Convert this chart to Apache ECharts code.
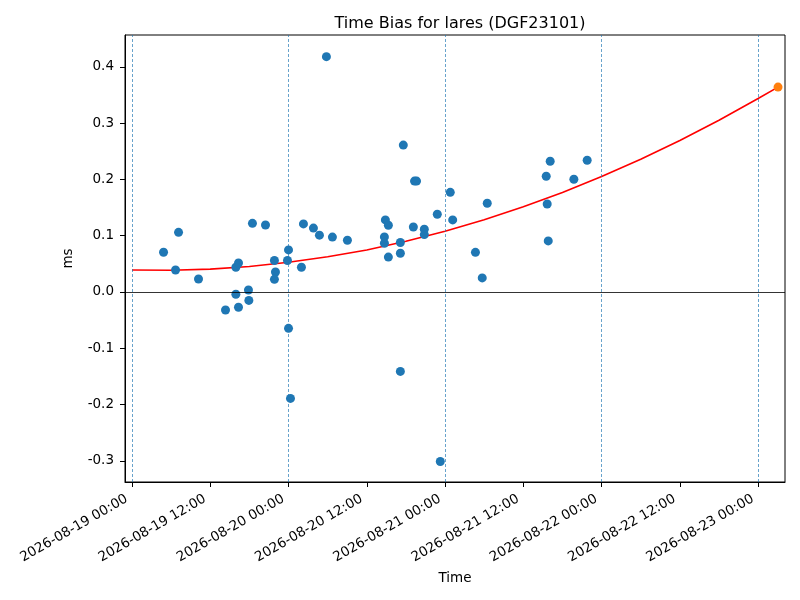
<!DOCTYPE html>
<html>
<head>
<meta charset="utf-8">
<title>Time Bias for lares</title>
<script src="https://cdn.jsdelivr.net/npm/echarts@6/dist/echarts.min.js"></script>
<style>
    html, body { margin: 0; padding: 0; background: #fff; }
    #chart { width: 800px; height: 600px; }
</style>
</head>
<body>
<div id="chart"></div>
<script>
// hours after 2026-08-19 00:00, and time bias in ms
var biasHours = [
    4.84, 7.14, 6.68, 10.2, 14.34, 15.93, 16.33, 15.93, 16.33, 17.86,
    17.92, 18.47, 20.47, 21.84, 22.0, 21.84, 24.0, 23.84, 24.0, 24.3,
    25.98, 26.29, 27.82, 28.74, 29.81, 30.73, 33.03, 38.7, 38.7, 38.85,
    39.31, 39.31, 41.15, 41.15, 41.15, 41.6, 43.14, 43.32, 43.63, 44.82,
    44.82, 46.81, 47.27, 48.8, 49.17, 52.66, 53.7, 54.47, 63.51, 63.66,
    63.82, 64.12, 67.75, 69.79
];
var biasValues = [
    0.0706, 0.106, 0.039, 0.023, -0.032, 0.044, 0.0516, -0.004, -0.027, 0.0036,
    -0.015, 0.122, 0.119, 0.056, 0.0356, 0.0225, 0.0747, 0.056, -0.0646, -0.189,
    0.044, 0.121, 0.1135, 0.101, 0.418, 0.0975, 0.092, 0.0978, 0.0865, 0.128,
    0.1185, 0.062, 0.088, 0.0688, -0.141, 0.261, 0.1155, 0.197, 0.197, 0.1114,
    0.102, 0.138, -0.301, 0.177, 0.128, 0.0705, 0.025, 0.1577, 0.2057, 0.1564,
    0.0907, 0.2323, 0.2003, 0.234
];

// fitted trend (red line)
var fitHours = [0, 6, 12, 18, 24, 30, 36, 42, 48, 54, 60, 66, 72, 78, 84, 90, 96, 99.05];
var fitValues = [0.039, 0.0385, 0.0406, 0.0453, 0.0527, 0.0626, 0.0747, 0.0902, 0.108,
    0.1283, 0.1513, 0.1768, 0.205, 0.2358, 0.2692, 0.3051, 0.3438, 0.364];

// predicted point (orange)
var predHour = 99.05;
var predValue = 0.364;

var dayLineHours = [0, 24, 48, 72, 96];
var xTickHours = [0, 12, 24, 36, 48, 60, 72, 84, 96];
var yTicks = [-0.3, -0.2, -0.1, 0.0, 0.1, 0.2, 0.3, 0.4];

var base = Date.UTC(2026, 7, 19, 0, 0, 0);
function pad(n) { return n < 10 ? '0' + n : '' + n; }
function fmtHour(h) {
    var d = new Date(base + h * 3600 * 1000);
    return d.getUTCFullYear() + '-' + pad(d.getUTCMonth() + 1) + '-' + pad(d.getUTCDate()) +
        ' ' + pad(d.getUTCHours()) + ':' + pad(d.getUTCMinutes());
}

var scatterData = [];
for (var i = 0; i < biasHours.length; i++) {
    scatterData.push([biasHours[i], biasValues[i]]);
}
var fitData = [];
for (var j = 0; j < fitHours.length; j++) {
    fitData.push([fitHours[j], fitValues[j]]);
}

var font = 'DejaVu Sans';
var chart = echarts.init(document.getElementById('chart'));

var option = {
    backgroundColor: '#fff',
    animation: false,
    textStyle: { fontFamily: font },
    title: {
        text: 'Time Bias for lares (DGF23101)',
        left: 455,
        textAlign: 'center',
        top: 11,
        textStyle: { fontFamily: font, fontSize: 16, fontWeight: 'normal', color: '#000' }
    },
    grid: {
        left: 125, right: 15, top: 35, bottom: 118,
        show: true, borderColor: '#000', borderWidth: 1, backgroundColor: 'transparent'
    },
    xAxis: {
        type: 'value',
        min: -1.07,
        max: 100.12,
        name: 'Time',
        nameLocation: 'middle',
        nameGap: 89,
        nameTextStyle: { fontFamily: font, fontSize: 13.5, color: '#000' },
        splitLine: { show: false },
        axisLine: { show: true, onZero: false, lineStyle: { color: '#000', width: 1 } },
        axisTick: {
            show: true, length: 5, lineStyle: { color: '#000' },
            customValues: xTickHours
        },
        axisLabel: {
            rotate: 30,
            margin: 13,
            padding: [0, 6, 0, 0],
            fontFamily: font,
            fontSize: 13.5,
            color: '#000',
            customValues: xTickHours,
            formatter: function (v) { return fmtHour(v); }
        }
    },
    yAxis: {
        type: 'value',
        min: -0.3375,
        max: 0.4565,
        name: 'ms',
        nameLocation: 'middle',
        nameGap: 50,
        nameTextStyle: { fontFamily: font, fontSize: 13.5, color: '#000' },
        splitLine: { show: false },
        axisLine: { show: true, onZero: false, lineStyle: { color: '#000', width: 1 } },
        axisTick: {
            show: true, length: 5, lineStyle: { color: '#000' },
            customValues: yTicks
        },
        axisLabel: {
            margin: 11,
            fontFamily: font,
            fontSize: 13.5,
            color: '#000',
            customValues: yTicks,
            formatter: function (v) { return v.toFixed(1); }
        }
    },
    series: [
        {
            name: 'fit',
            type: 'line',
            data: fitData,
            smooth: false,
            showSymbol: false,
            lineStyle: { color: '#ff0000', width: 1.6 },
            z: 2,
            markLine: {
                silent: true,
                symbol: 'none',
                label: { show: false },
                data: dayLineHours.map(function (h) {
                    return {
                        xAxis: h,
                        lineStyle: { color: '#1f77b4', width: 0.8, type: [3, 2], opacity: 0.85 }
                    };
                }).concat([{
                    yAxis: 0,
                    lineStyle: { color: '#000', width: 0.8, type: 'solid' }
                }])
            }
        },
        {
            name: 'bias',
            type: 'scatter',
            data: scatterData,
            symbolSize: 9,
            itemStyle: { color: '#1f77b4', opacity: 1 },
            z: 3
        },
        {
            name: 'prediction',
            type: 'scatter',
            data: [[predHour, predValue]],
            symbolSize: 9,
            itemStyle: { color: '#ff7f0e', opacity: 1 },
            z: 4
        }
    ]
};

chart.setOption(option);
</script>
</body>
</html>
